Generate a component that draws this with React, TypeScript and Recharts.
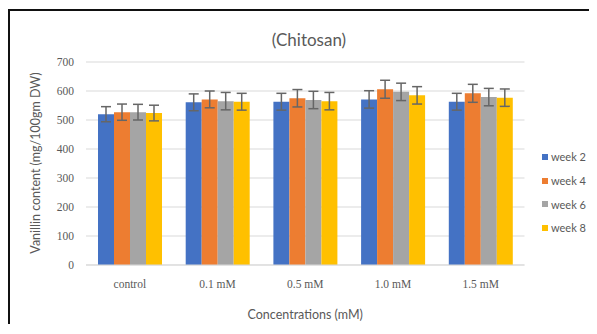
import React from 'react'
import {
  BarChart,
  Bar,
  XAxis,
  YAxis,
  CartesianGrid,
  ErrorBar,
} from 'recharts'

const categories = ['control', '0.1 mM', '0.5 mM', '1.0 mM', '1.5 mM']
const week2 = [520, 561, 563, 571, 563]
const week4 = [527, 571, 575, 606, 592]
const week6 = [527, 565, 569, 597, 579]
const week8 = [524, 563, 565, 585, 577]
const err2 = [26, 29, 29, 30, 29]
const err4 = [28, 29, 30, 31, 31]
const err6 = [27, 30, 30, 30, 30]
const err8 = [27, 29, 30, 30, 30]
const yTicks = [0, 100, 200, 300, 400, 500, 600, 700]

const series = [
  { key: 'w2', err: 'e2', name: 'week 2', color: '#4472C4' },
  { key: 'w4', err: 'e4', name: 'week 4', color: '#ED7D31' },
  { key: 'w6', err: 'e6', name: 'week 6', color: '#A5A5A5' },
  { key: 'w8', err: 'e8', name: 'week 8', color: '#FFC000' },
]

const data = categories.map((c, i) => ({
  name: c,
  w2: week2[i],
  w4: week4[i],
  w6: week6[i],
  w8: week8[i],
  e2: err2[i],
  e4: err4[i],
  e6: err6[i],
  e8: err8[i],
}))

const sans = 'Lato, "Open Sans", sans-serif'
const serif = '"Liberation Serif", "DejaVu Serif", serif'
const grey = '#595959'

export default function App() {
  return (
    <div style={{ position: 'relative', width: 581, height: 316 }}>
      <div
        style={{
          position: 'absolute',
          left: 0,
          top: 1,
          width: 588,
          height: 315,
          borderTop: '2px solid #111',
          borderLeft: '2px solid #111',
          boxSizing: 'border-box',
        }}
      />
      <div
        style={{
          position: 'absolute',
          left: 0,
          width: 581,
          paddingLeft: 21,
          boxSizing: 'border-box',
          top: 21,
          textAlign: 'center',
          fontFamily: sans,
          fontSize: 17,
          color: grey,
        }}
      >
        (Chitosan)
      </div>
      <div
        style={{
          position: 'absolute',
          left: 28 - 120,
          top: 155 - 10,
          width: 240,
          height: 20,
          lineHeight: '20px',
          textAlign: 'center',
          transform: 'rotate(-90deg)',
          fontFamily: sans,
          fontSize: 12.5,
          color: grey,
        }}
      >
        Vanillin content (mg/100gm DW)
      </div>
      <div
        style={{
          position: 'absolute',
          left: 78,
          width: 438.5,
          top: 299,
          textAlign: 'center',
          fontFamily: sans,
          fontSize: 12.5,
          lineHeight: '15px',
          color: grey,
        }}
      >
        Concentrations (mM)
      </div>
      <div
        style={{
          position: 'absolute',
          left: 534,
          top: 137,
          width: 46,
          fontFamily: sans,
          fontSize: 11,
          color: grey,
          whiteSpace: 'nowrap',
        }}
      >
        {series.map((s) => (
          <div key={s.key} style={{ display: 'flex', alignItems: 'center', height: 23.7 }}>
            <span style={{ width: 6, height: 6, background: s.color, marginRight: 3 }} />
            {s.name}
          </div>
        ))}
      </div>
      <BarChart
        width={581}
        height={316}
        data={data}
        margin={{ top: 54, right: 64.5, left: 0, bottom: 29 }}
        barCategoryGap={12}
        barGap={0}
        style={{ position: 'absolute', left: 0, top: 0 }}
      >
        <CartesianGrid vertical={false} stroke="#d9d9d9" />
        <XAxis
          dataKey="name"
          axisLine={{ stroke: '#d9d9d9' }}
          tickLine={false}
          tickSize={0}
          tickMargin={15}
          height={30}
          tick={{ fontFamily: serif, fontSize: 11.5, fill: grey }}
        />
        <YAxis
          width={78}
          domain={[0, 700]}
          ticks={yTicks}
          axisLine={false}
          tickLine={false}
          tickSize={0}
          tickMargin={12}
          tick={{ fontFamily: serif, fontSize: 11.5, fill: grey }}
        />
        {series.map((s) => (
          <Bar key={s.key} dataKey={s.key} name={s.name} fill={s.color} isAnimationActive={false}>
            <ErrorBar dataKey={s.err} width={5} stroke="#666" strokeWidth={1.5} isAnimationActive={false} />
          </Bar>
        ))}
      </BarChart>
    </div>
  )
}
